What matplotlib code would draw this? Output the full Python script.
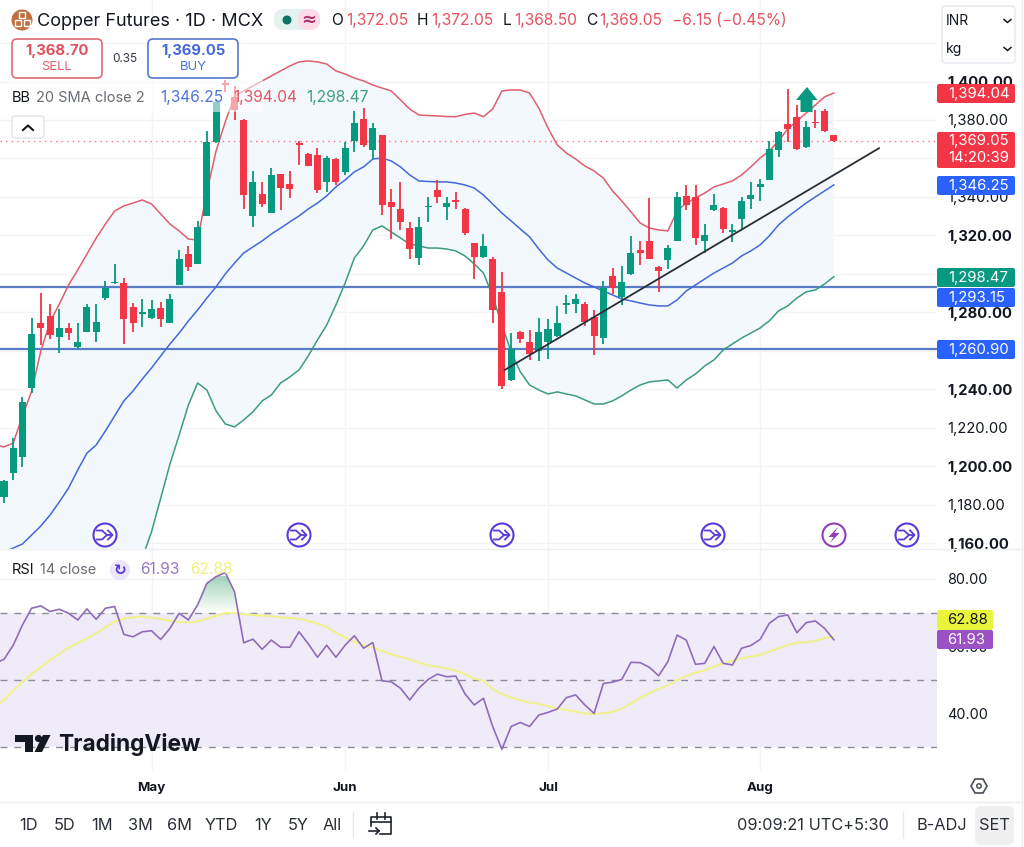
import numpy as np
import matplotlib
matplotlib.use('Agg')
import matplotlib.pyplot as plt
from matplotlib.patches import FancyBboxPatch, Circle, Polygon, Rectangle
from matplotlib.path import Path

plt.rcParams['font.family'] = ['Inter', 'DejaVu Sans']

# ohlc per daily bar
opens = [1184,1196.5,1204.5,1240.5,1274.5,1278,1267,1272,1262,1270,1269.5,1287.5,1295,1295,1282.5,1279,1277,1282,1274.5,1294,
         1310.5,1305,1330,1368.5,1399,1392,1380,1330,1341.5,1331.5,1352,1346.5,1368,1362.5,1362,1347.5,1359.5,1353,1369,1380.5,
         1364.5,1372,1337.5,1333.5,1324,1308,1334.5,1343.5,1334.5,1338.5,1333.5,1316,1308.5,1307.5,1290.5,1245,1269.5,1264.5,1260,1264.5,
         1267.5,1284,1284.5,1284.5,1277.5,1266.5,1299,1288,1300,1312.5,1317,1303.5,1307,1317,1340.5,1340,1317,1333,1334,1322,
         1328.5,1339,1345,1349,1364.5,1378,1381.5,1366,1379,1384.5,1372.05]
highs = [1193,1214.5,1236,1277,1290,1284.5,1281.5,1274.5,1274.5,1284.5,1284.5,1296.5,1305,1298,1285,1287,1286.5,1285.5,1289.5,1312.5,
         1314.5,1327.5,1374.5,1391,1401,1397.5,1380.5,1353.5,1347.5,1355,1352,1353.5,1369,1363,1365.5,1361.5,1360,1368.5,1384.5,1386,
         1378.5,1372,1344,1348,1327,1329.5,1340,1349,1340,1342.5,1334,1316,1320.5,1309,1301,1269,1270.5,1271,1277,1276.5,
         1283.5,1289,1289.5,1285.5,1281,1296.5,1303,1304,1319.5,1317,1339.5,1304,1315,1342.5,1346,1346,1326,1341.5,1334.5,1326,
         1340,1347.5,1349.5,1369,1374.5,1396,1388,1379.5,1385,1385.5,1372.05]
lows = [1181,1193,1199.5,1238,1263,1266,1259,1265.5,1261,1269.5,1264.5,1286.5,1294.5,1263.5,1270,1272.5,1276.5,1272.5,1274.5,1294,
        1301.5,1305,1330,1368,1394.5,1380,1333.5,1324.5,1334.5,1331.5,1333,1339.5,1356.5,1356,1342,1342.5,1346,1351.5,1363.5,1366,
        1359.5,1330.5,1318,1323,1307.5,1304.5,1327,1337,1328,1333.5,1320,1297.5,1308,1274.5,1240,1244.5,1264,1255,1254.5,1255.5,
        1267,1279,1279.5,1273,1258,1263.5,1289.5,1284,1299.5,1304.5,1307.5,1290.5,1302.5,1317,1333,1315,1311,1332.5,1321,1316.5,
        1323,1333.5,1338,1349,1360.5,1368.5,1364.5,1365.5,1376,1374,1368.5]
closes = [1192.5,1209.5,1233.5,1268.5,1272,1268,1272,1269,1264.5,1282.5,1275,1292.5,1296,1276.5,1274.5,1280,1281.5,1276.5,1287,1307.5,
          1303.5,1324.5,1368.5,1389.5,1398,1385,1341,1347.5,1336.5,1351.5,1344.5,1344,1367,1356,1343.5,1360,1348,1365.5,1378.5,1367,
          1376,1336,1335,1327,1313,1324.5,1335.5,1340,1337,1337.5,1321,1309,1314.5,1281,1241.5,1261,1266,1258.5,1269.5,1271.5,
          1274.5,1285,1287,1275,1267.5,1292.5,1292.5,1295.5,1311,1311,1307.5,1301.5,1313.5,1340,1336,1318.5,1320,1336,1323.5,1323,
          1338,1341,1346.5,1365,1373.5,1375.5,1365,1376.5,1378.5,1374.5,1369.05]

# bollinger 20 sma close 2, first value belongs to the bar just left of the screen
bb_upper = [1211,1210,1212,1226,1239,1260,1275,1284.3,1294.2,1302,1310.3,1318.6,1325.9,1332.7,1335.3,1336.8,1338.4,1336.3,1331.1,1325.9,1322.3,
            1318.1,1317.6,1342.6,1363.9,1379,1392.5,1395.1,1397.7,1400.3,1402.9,1405.5,1408.1,1410.2,1410.7,1410.2,1409.1,1405.5,1403.9,1401.8,1400.3,
            1398.2,1396.6,1395.1,1390.4,1385.7,1382.6,1382.3,1382.1,1381.8,1381.7,1382.9,1383.6,1381.7,1385.7,1395.1,1395.6,1395.6,1394,1386.2,1375.8,
            1367,1362.8,1359.7,1356.1,1353.5,1349.8,1343.1,1337.9,1332.2,1326.4,1323.8,1322.8,1322.3,1332.7,1336.8,1339.4,1342,1345.2,1346.7,1348.3,
            1351.4,1355.6,1360.2,1363.9,1369.1,1375.3,1379.5,1383.6,1387.8,1392,1394.04]
bb_basis = [1154.5,1155.4,1157.4,1159.5,1164.2,1168.9,1174.6,1181.4,1188.6,1198,1206.8,1211,1218.3,1226.1,1233.9,1239.1,1245.3,1251,1257.3,1263.5,1269.2,
            1275.5,1281.2,1287.4,1293.2,1299.9,1305.6,1310.8,1314,1317.1,1320.7,1323.8,1327,1330.1,1333.7,1336.8,1340.5,1345.2,1348.8,1353,1355.6,
            1359.7,1360.2,1358.7,1355.6,1351.4,1348.3,1348,1347.8,1347.8,1347.2,1346.2,1344.6,1341,1336.3,1331.6,1327.5,1323.3,1319.2,1312.9,1307.2,
            1303,1300.4,1297.8,1295.2,1293.2,1291.1,1289,1286.9,1285.9,1284.8,1283.8,1283.3,1283.3,1286.4,1291.1,1294.2,1297.3,1300.4,1303,1305.6,
            1309.3,1311.9,1315,1319.7,1325.4,1329.6,1333.2,1336.8,1340,1343.1,1346.25]
bb_lower = [1100,1101.8,1102.8,1093,1089.3,1077.9,1074.2,1078.4,1083.1,1094,1103.4,1103.4,1110.6,1119.5,1132.5,1141.3,1152.2,1165.8,1183.4,1201.1,1216.2,
            1231.8,1243.2,1239.6,1228.7,1221.9,1220.4,1224,1228.2,1233.9,1237,1243.2,1246.4,1250,1257.3,1265.6,1273.4,1283.8,1295.2,1308.2,1314.5,
            1322.8,1324.9,1321.8,1318.6,1315.5,1314.5,1313.4,1313.4,1312.9,1311.9,1309.3,1305.1,1300.4,1288.5,1273.4,1259.4,1249,1242.2,1239.6,1237.5,
            1238.6,1237.5,1236.5,1234.4,1232.3,1232.3,1233.9,1236.5,1239.6,1242.2,1243.8,1244.3,1244.8,1240.6,1244.8,1247.9,1252.1,1255.2,1260.4,1263.5,
            1266.6,1269.2,1271.8,1275.5,1280.7,1283.3,1287.4,1290.6,1291.6,1294.7,1298.47]

# rsi 14 close and its average, same off-screen first value
rsi = [54.9,56.1,60.3,66.3,71.3,72,70.3,71,69.8,67.8,71.1,68,71.3,71.8,63.5,62.8,64.3,64.6,62,65.3,69.8,
       67.8,72.3,78.7,80.7,81.9,76.2,61,62.1,59.1,61.8,59.7,59.7,64.3,60.7,56.7,60.3,56.7,60.3,63.1,59.4,
       61.1,49.7,49.4,47.5,44,47.5,50.1,51.7,50.9,51.1,45.8,42.5,44.5,36.1,29.3,36.1,37.3,36.1,39.5,40.3,
       41.3,44.7,45.5,42.5,40,48.9,49.3,50.1,55.2,55.1,53.7,51.2,55.4,63.3,61.8,54.6,54.9,59.9,54.9,54.4,
       59.4,60.2,62,66.8,68.8,69.3,64,67,67.5,65.3,61.93]
rsi_ma = [42,44,46.9,49.2,51.8,53.7,55.9,57.7,59.5,60.9,62.3,63.9,65.6,67.3,68.2,68.6,68.8,68.5,68.1,67.6,67.2,
          67.1,67.4,68.2,69,69.9,69.8,69.5,69.3,69.1,68.9,68.6,68.4,68.1,67.6,66.7,65.8,64,62.6,61.3,60.3,
          59.6,58.6,57.6,56.9,56.1,55.1,54.3,53.9,53.4,52.7,51.7,50.4,49.7,47.2,45.8,44.7,44,43.2,42.8,42.2,
          41.5,41,40.5,40,39.8,40.1,40.4,41.4,43,44.6,46,47.2,48.3,49.9,51.1,52.1,52.9,53.9,54.9,55.6,
          56.4,56.9,57.4,58.4,59.4,60.3,61,61.2,61.6,62.4,62.88]

# drawings
level_prices = [1293.15, 1260.90]
last_price = 1369.05
trend_bars = [54.3, 94.9]
trend_prices = [1250, 1365.3]

price_ticks = list(range(1160, 1421, 20))
bold_ticks = [1160, 1200, 1240, 1280, 1320, 1400]
rsi_ticks = [40, 60, 80]
rsi_levels = [70, 50, 30]
month_bars = [16, 37, 59, 82]
month_names = ['May', 'Jun', 'Jul', 'Aug']
ranges = ['1D', '5D', '1M', '3M', '6M', 'YTD', '1Y', '5Y', 'All']

GREEN = '#089981'
RED = '#f23645'
BLUE = '#2962ff'
PURPLE = '#9b51c4'
GRID = '#f3f4f6'

W, H = 1024.0, 847.0
fig = plt.figure(figsize=(10.24, 8.47), dpi=100, facecolor='white')

def pane(left, top, right, bottom):
    return fig.add_axes([left/W, 1-bottom/H, (right-left)/W, (bottom-top)/H])

xlim = (-0.434, 101.19)

# ---- price pane
ax = pane(0, 0, 937, 549)
ax.set_xlim(xlim)
ax.set_ylim(1156.9, 1442.38)
bars = np.arange(len(closes))
band_bars = np.arange(-1, len(closes))
ax.fill(np.r_[band_bars, band_bars[::-1]], np.r_[bb_upper, bb_lower[::-1]], color='#f3f8fd', lw=0, zorder=1)
ax.plot(band_bars, bb_upper, color='#de5f70', lw=1.1, zorder=3)
ax.plot(band_bars, bb_basis, color='#4468d8', lw=1.1, zorder=3)
ax.plot(band_bars, bb_lower, color='#3c9c80', lw=1.1, zorder=3)

for lv in level_prices:
    ax.axhline(lv, color='#5a7cc4', lw=1.6, zorder=2)
ax.axhline(last_price, color=RED, lw=1, dashes=(1, 3), alpha=0.7, zorder=2)

cols = [GREEN if c >= o else RED for o, c in zip(opens, closes)]
ax.vlines(bars, lows, highs, colors=cols, lw=1.3, zorder=4)
ax.bar(bars, np.abs(np.array(closes)-np.array(opens)), bottom=np.minimum(opens, closes),
       width=0.76, color=cols, linewidth=0, zorder=5)
ax.plot(trend_bars, trend_prices, color='#2a2e39', lw=1.3, zorder=6)

ax.yaxis.tick_right()
ax.set_yticks(price_ticks)
# 1420 only has a grid line, the unit box sits where its label would be
ax.set_yticklabels(['{:,.2f}'.format(t) if t <= 1400 else '' for t in price_ticks], fontsize=10.7, color='#131722')
for lab, t in zip(ax.get_yticklabels(), price_ticks):
    if t in bold_ticks:
        lab.set_fontweight('bold')
ax.set_xticks(month_bars)
ax.set_xticklabels([])
ax.tick_params(length=0, pad=7.5)
ax.grid(True, color=GRID, lw=1, zorder=0)
ax.set_axisbelow(True)
for s in ax.spines.values():
    s.set_visible(False)

# ---- rsi pane
ax2 = pane(0, 550, 937, 770)
ax2.set_xlim(xlim)
ax2.set_ylim(23.15, 88.63)
ax2.axhspan(30, 70, color='#f0ebf8', lw=0, zorder=1)
for lv in rsi_levels:
    ax2.axhline(lv, color='#8a8d96', lw=1, dashes=(5, 5), zorder=2)
# green glow over the overbought line
grad = np.zeros((64, 2, 4))
grad[..., :3] = matplotlib.colors.to_rgb('#2e9e5f')
grad[..., 3] = np.linspace(0.45, 0, 64)[:, None]
glow = ax2.imshow(grad, extent=[xlim[0], xlim[1], 70, 81], aspect='auto', zorder=2, origin='upper')
clip = ax2.fill_between(band_bars, 70, rsi, where=np.array(rsi) > 70, interpolate=True, color='none', lw=0)
glow.set_clip_path(Path.make_compound_path(*clip.get_paths()), transform=ax2.transData)
ax2.set_xlim(xlim)
ax2.set_ylim(23.15, 88.63)
ax2.plot(band_bars, rsi_ma, color='#f0f28e', lw=1.5, zorder=3)
ax2.plot(band_bars, rsi, color='#8f6cba', lw=1.2, zorder=4)
ax2.yaxis.tick_right()
ax2.set_yticks(rsi_ticks)
ax2.set_yticklabels(['{:.2f}'.format(t) for t in rsi_ticks], fontsize=10.4, color='#131722')
ax2.set_xticks(month_bars)
ax2.set_xticklabels(month_names, fontsize=9.6, fontweight='bold', color='#131722')
ax2.tick_params(length=0)
ax2.tick_params(axis='y', pad=7.5)
ax2.tick_params(axis='x', pad=8.5)
ax2.grid(True, color=GRID, lw=1, zorder=0)
ax2.set_axisbelow(True)
for s in ax2.spines.values():
    s.set_visible(False)

# ---- everything that floats on the chart, in screen pixels
ui = fig.add_axes([0, 0, 1, 1], zorder=10)
ui.set_xlim(0, W)
ui.set_ylim(H, 0)
ui.axis('off')
ui.patch.set_alpha(0)

def txt(x, y, s, size=10.7, color='#131722', ha='left', weight='normal', **kw):
    ui.text(x, y, s, fontsize=size, color=color, ha=ha, va='center', fontweight=weight, **kw)

def box(x0, y0, x1, y1, fc='white', ec='none', lw=1.0, r=3, alpha=None):
    ui.add_patch(FancyBboxPatch((x0+r, y0+r), x1-x0-2*r, y1-y0-2*r, boxstyle='round,pad=%s,rounding_size=%s' % (r, r),
                                fc=fc, ec=ec, lw=lw, alpha=alpha))

def tag(y0, y1, s, fc, x1=1015, color='white', x_txt=948):
    box(937, y0, x1, y1, fc=fc, r=2)
    txt(x_txt, (y0+y1)/2+0.5, s, color=color)

ui.plot([0, W], [549, 549], color='#eceef2', lw=1)
ui.plot([0, W], [802, 802], color='#eceef2', lw=1)
ui.plot([1022, 1022], [0, H], color='#eceef2', lw=1)

# pale legend backing
ui.add_patch(Rectangle((8, 80), 255, 32, fc='white', ec='none', alpha=0.55))

# header
ui.add_patch(Circle((22, 20), 10.5, fc='#c0703e', ec='none'))
for cx, cy in [(22, 15.5), (17.5, 23), (26.5, 23)]:
    ui.add_patch(Rectangle((cx-3, cy-3), 6, 6, fc='#c0703e', ec='white', lw=1))
txt(37, 21, 'Copper Futures \u00b7 1D \u00b7 MCX', size=13.05)
box(274, 9, 320, 30, fc='#e3f2ef', r=10)
box(298, 9, 320, 30, fc='#fbdce8', r=10)
ui.add_patch(Circle((287, 20), 4.5, fc='#0b7565', ec='none'))
txt(309, 19.5, '\u2248', size=13, color='#a8326a', ha='center', weight='bold', family='DejaVu Sans')
for x0, lab, x1, val in [(331, 'O', 346, '1,372.05'), (417, 'H', 431, '1,372.05'), (503, 'L', 514, '1,368.50'), (586, 'C', 599, '1,369.05')]:
    txt(x0, 20.5, lab, size=11.2)
    txt(x1, 20.5, val, size=11.2, color='#e8505e')
txt(672, 20.5, '\u22126.15 (\u22120.45%)', size=11.2, color='#e8505e')

# sell / buy
box(12, 39, 102, 78, ec='#dd6b76', lw=1.2, r=5)
txt(57, 50.5, '1,368.70', size=10.7, color='#e0505f', ha='center', weight='bold')
txt(56, 67, 'SELL', size=9.4, color='#e0606d', ha='center')
txt(125, 59, '0.35', size=8.5, ha='center', color='#333744')
box(148, 39, 238, 78, ec='#5577cc', lw=1.2, r=5)
txt(193, 50.5, '1,369.05', size=10.7, color='#4468d8', ha='center', weight='bold')
txt(193, 67, 'BUY', size=9.4, color='#4f72d8', ha='center')

# bb legend
txt(12, 97.5, 'BB', size=10.5)
txt(36, 97.5, '20 SMA close 2', size=10.5, color='#6a6d78')
txt(160, 97.5, '1,346.25', size=11.2, color='#4f72d8')
txt(233, 97.5, '1,394.04', size=11.2, color='#dd5566')
txt(306, 97.5, '1,298.47', size=11.2, color='#3f9f83')
box(12, 116, 44, 138, ec='#e2e4ea', lw=1, r=3)
ui.plot([23, 28, 33], [130, 125.5, 130], color='#131722', lw=1.5)

# arrow flag above the bars
ui.add_patch(Polygon([(807, 87), (817.5, 100), (812.5, 100), (812.5, 112), (800.5, 112), (800.5, 100), (796, 100)], fc=GREEN, ec='none'))

# price scale tags
tag(84, 103, '1,394.04', RED)
box(937, 132, 1015, 168, fc=RED, r=2)
txt(948, 141.5, '1,369.05', color='white')
txt(948, 158, '14:20:39', color='white')
tag(176, 195, '1,346.25', BLUE)
tag(268, 287, '1,298.47', GREEN)
tag(288, 307, '1,293.15', BLUE)
tag(340, 359, '1,260.90', BLUE)
tag(610, 630, '62.88', '#e8f53c', x1=993, color='#131722', x_txt=947)
tag(630, 649, '61.93', PURPLE, x1=993, x_txt=947)

# events row
for cx in [105, 299, 502, 713, 834, 907]:
    if cx == 834:
        ui.add_patch(Circle((cx, 535), 11.5, fc='white', ec='#8f3fb8', lw=1.5))
        ui.add_patch(Polygon([(838, 527), (828.5, 537), (833.5, 537), (830, 543), (839.5, 533), (834.5, 533)], fc='#8f3fb8', ec='none'))
    else:
        ev = '#5b3bd6'
        ui.add_patch(Circle((cx, 535), 11.5, fc='white', ec=ev, lw=1.5))
        ui.plot([cx-8, cx-3, cx+2, cx+7], [530.5, 530.5, 535, 535], color=ev, lw=1.3)
        ui.plot([cx-8, cx-3, cx+2], [539.5, 539.5, 535], color=ev, lw=1.3)
        ui.plot([cx+3, cx+7.5, cx+3], [530.5, 535, 539.5], color=ev, lw=1.3)

# rsi legend
txt(12, 570, 'RSI', size=10.5)
txt(40, 570, '14 close', size=10.5, color='#6a6d78')
ui.add_patch(Circle((120, 570), 10, fc='#ece6fa', ec='none'))
txt(120, 570, '\u21bb', size=11, color='#5b3bd6', ha='center', family='DejaVu Sans', weight='bold')
txt(140, 570, '61.93', size=11.2, color='#9a78c2')
txt(190, 570, '62.88', size=11.2, color='#eef27e')

# watermark
ui.add_patch(Polygon([(15, 735), (33, 735), (33, 752), (25, 752), (25, 742), (15, 742)], fc='#131722', ec='none'))
ui.add_patch(Circle((38.5, 738.5), 3.6, fc='#131722', ec='none'))
ui.add_patch(Polygon([(43, 735), (50.5, 735), (42, 752), (34.5, 752)], fc='#131722', ec='none'))
txt(58, 744.5, 'TradingView', size=16.4, weight='bold')

# currency / unit box
box(942, 6, 1015, 63, fc='white', ec='#e6e8ee', lw=1, r=4)
txt(946, 21, 'INR', size=10)
txt(946, 49, 'kg', size=10)
for yy in [21, 49]:
    ui.plot([1004, 1007.5, 1011], [yy-1.5, yy+1.5, yy-1.5], color='#131722', lw=1.1)

# hexagon settings
ui.add_patch(Polygon([(971, 786), (975, 779), (983, 779), (987, 786), (983, 793), (975, 793)], fc='none', ec='#4a4e59', lw=1.2))
ui.add_patch(Circle((979, 786), 2.2, fc='none', ec='#4a4e59', lw=1.1))

# bottom toolbar
for cx, lab in zip([28, 65, 102, 140, 179, 221, 263, 298, 332], ranges):
    txt(cx, 826, lab, size=11.8, ha='center', color='#2a2e39')
ui.plot([353, 353], [812, 838], color='#e6e8ee', lw=1)
cal = '#202430'
ui.plot([371, 371, 391, 391, 380], [826, 817, 817, 834, 834], color=cal, lw=1.2)
ui.plot([371, 391], [822, 822], color=cal, lw=1.2)
ui.plot([377, 377], [813, 819], color=cal, lw=1.2)
ui.plot([385, 385], [813, 819], color=cal, lw=1.2)
ui.plot([369, 379], [831, 831], color=cal, lw=1.2)
ui.plot([376, 379, 376], [828, 831, 834], color=cal, lw=1.2)
txt(737, 826, '09:09:21 UTC+5:30', size=11.8, color='#2a2e39')
ui.plot([903, 903], [812, 838], color='#e6e8ee', lw=1)
txt(916, 826, 'B-ADJ', size=11.8, color='#2a2e39')
box(975, 806, 1014, 845, fc='#f0f0f0', r=6)
txt(994.5, 826, 'SET', size=11.8, ha='center', color='#2a2e39')

fig.savefig('out.png', dpi=100)
